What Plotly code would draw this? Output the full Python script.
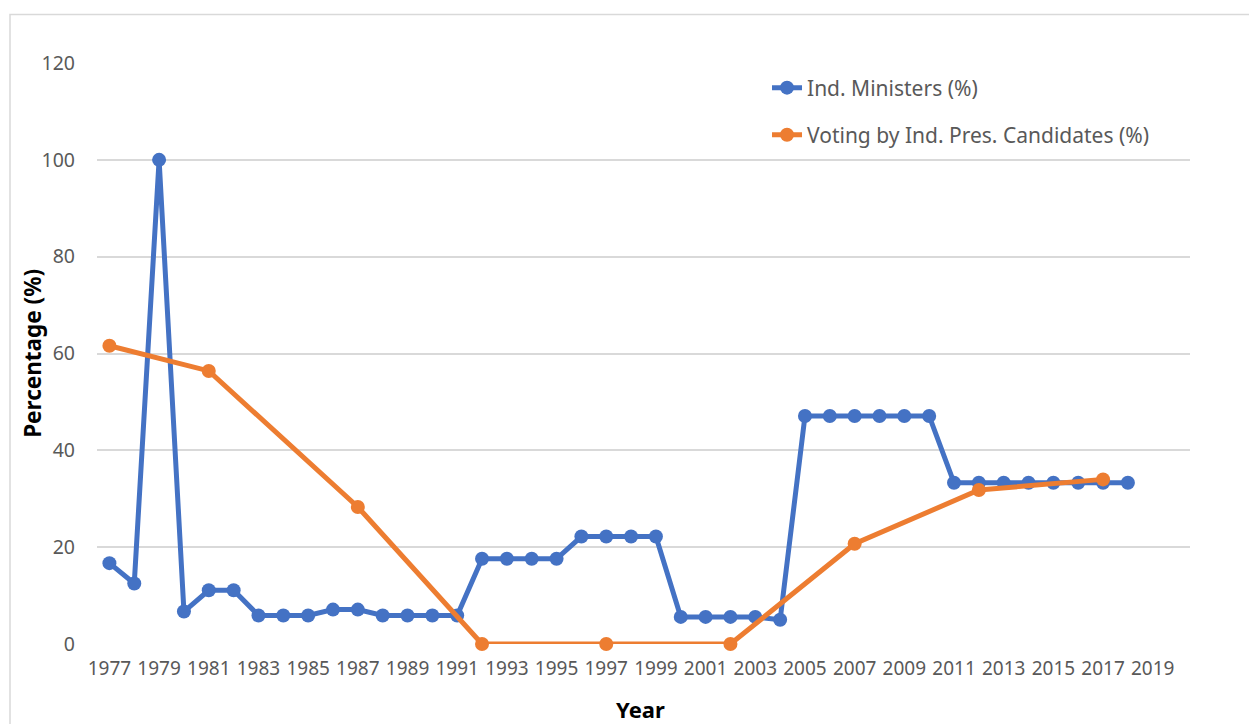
import plotly.graph_objects as go

# Independent ministers, share of cabinet by year (%)
minister_years = list(range(1977, 2019))
minister_pct = [
    16.7, 12.5, 100.0, 6.7, 11.1, 11.1, 5.9, 5.9, 5.9, 7.1,
    7.1, 5.9, 5.9, 5.9, 5.9, 17.6, 17.6, 17.6, 17.6, 22.2,
    22.2, 22.2, 22.2, 5.6, 5.6, 5.6, 5.6, 5.0, 47.1, 47.1,
    47.1, 47.1, 47.1, 47.1, 33.3, 33.3, 33.3, 33.3, 33.3, 33.3,
    33.3, 33.3,
]

# Vote share of independent presidential candidates by election year (%)
election_years = [1977, 1981, 1987, 1992, 1997, 2002, 2007, 2012, 2017]
candidate_pct = [61.6, 56.4, 28.3, 0.0, 0.0, 0.0, 20.7, 31.8, 34.0]

x_ticks = list(range(1977, 2020, 2))
y_ticks = [0, 20, 40, 60, 80, 100, 120]

BLUE = "#4472C4"
ORANGE = "#ED7D31"
GRID = "#D9D9D9"
TEXT = "#595959"
FONT = "Noto Sans"

fig = go.Figure()

fig.add_trace(go.Scatter(
    x=minister_years, y=minister_pct,
    mode="lines+markers",
    name="Ind. Ministers (%)",
    line=dict(color=BLUE, width=5),
    marker=dict(color=BLUE, size=14),
    legend="legend",
    showlegend=True,
    cliponaxis=False,
))

fig.add_trace(go.Scatter(
    x=election_years, y=candidate_pct,
    mode="lines+markers",
    name="Voting by Ind. Pres. Candidates (%)",
    line=dict(color=ORANGE, width=5),
    marker=dict(color=ORANGE, size=14),
    legend="legend2",
    showlegend=True,
    cliponaxis=False,
))

legend_style = dict(
    font=dict(family=FONT, size=21, color=TEXT),
    bgcolor="rgba(0,0,0,0)",
    borderwidth=0,
    xanchor="left",
    yanchor="middle",
    itemwidth=30,
    visible=True,
)

fig.update_layout(
    width=1249,
    height=724,
    showlegend=True,
    paper_bgcolor="white",
    plot_bgcolor="white",
    margin=dict(l=97, r=59, t=63, b=80),
    font=dict(family=FONT, color=TEXT),
    legend=dict(x=0.613, y=0.957, **legend_style),
    legend2=dict(x=0.613, y=0.876, **legend_style),
    xaxis=dict(
        range=[1976.5, 2020.5],
        tickmode="array",
        tickvals=x_ticks,
        ticktext=[str(v) for v in x_ticks],
        tickfont=dict(family=FONT, size=19, color=TEXT),
        showgrid=False,
        zeroline=False,
        showline=False,
        ticks="",
        ticklabelstandoff=11,
        fixedrange=True,
    ),
    yaxis=dict(
        range=[0, 120],
        tickmode="array",
        tickvals=y_ticks,
        tickfont=dict(family=FONT, size=19.5, color=TEXT),
        showgrid=True,
        gridcolor=GRID,
        gridwidth=1.5,
        zeroline=False,
        showline=False,
        ticks="",
        ticklabelstandoff=21,
        fixedrange=True,
    ),
    annotations=[
        dict(
            text="<b>Year</b>", xref="paper", yref="paper",
            x=0.497, y=-0.1125, xanchor="center", yanchor="middle",
            showarrow=False, font=dict(family=FONT, size=22, color="black"),
        ),
        dict(
            text="<b>Percentage (%)</b>", xref="paper", yref="paper",
            x=-0.0586, y=0.501, xanchor="center", yanchor="middle",
            textangle=-90, showarrow=False,
            font=dict(family=FONT, size=22.5, color="black"),
        ),
    ],
    shapes=[
        # chart frame
        dict(
            type="rect", xref="paper", yref="paper",
            x0=-0.0796, x1=1.2, y0=-0.3, y1=1.0835,
            line=dict(color=GRID, width=1.5), fillcolor="rgba(0,0,0,0)",
            layer="below",
        ),
    ],
)

fig.write_html("out.html")
